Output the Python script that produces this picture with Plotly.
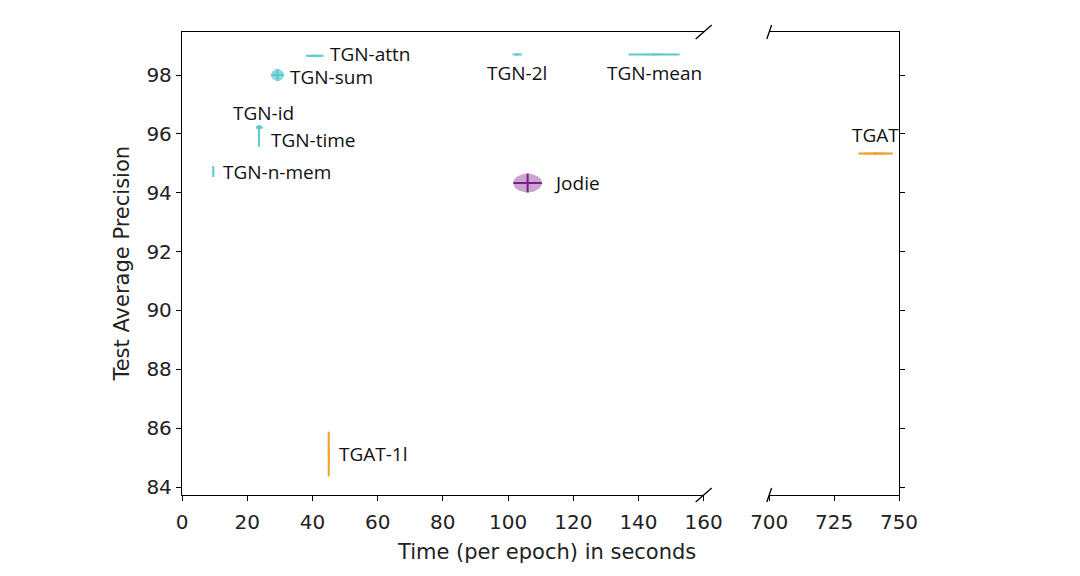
import numpy as np
import plotly.graph_objects as go
from plotly.subplots import make_subplots

# Methods, times (s per epoch) and test AP, with std in both directions
names = ['TGN-attn', 'TGN-sum', 'TGN-id', 'TGN-time', 'TGN-n-mem',
         'TGN-2l', 'TGN-mean', 'Jodie', 'TGAT-1l', 'TGAT']
time_s = [40.7, 29.3, 23.7, 23.6, 9.6, 102.8, 144.8, 106.0, 45.0, 741.0]
time_std = [2.7, 2.0, 1.0, 0.2, 0.15, 1.4, 7.8, 4.4, 0.3, 6.6]
ap = [98.65, 98.0, 96.22, 95.88, 94.72, 98.70, 98.70, 94.33, 85.12, 95.33]
ap_std = [0.04, 0.2, 0.08, 0.32, 0.19, 0.03, 0.03, 0.32, 0.76, 0.05]
group = ['tgn'] * 7 + ['jodie', 'tgat', 'tgat']

x_ticks_left = [0, 20, 40, 60, 80, 100, 120, 140, 160]
x_ticks_right = [700, 725, 750]
y_ticks = [84, 86, 88, 90, 92, 94, 96, 98]

bar_color = {'tgn': '#5cc9cf', 'jodie': '#7a1f85', 'tgat': '#f2a22c'}
fill_color = {'tgn': 'rgba(92,201,207,0.7)', 'jodie': 'rgba(160,90,170,0.55)',
              'tgat': 'rgba(242,162,44,0.7)'}

# label placement: (xanchor, xshift px, yshift px)
label_pos = {
    'TGN-attn': ('left', 14, 2), 'TGN-sum': ('left', 11, -2),
    'TGN-id': ('left', -27, 14), 'TGN-time': ('left', 11, -3),
    'TGN-n-mem': ('left', 9, 0), 'TGN-2l': ('center', 0, -19),
    'TGN-mean': ('center', 0, -19), 'Jodie': ('left', 25, 0),
    'TGAT-1l': ('left', 9, 0), 'TGAT': ('center', 0, 19),
}

fig = make_subplots(rows=1, cols=2, shared_yaxes=True)
left_dom = [0, 0.7276]
right_dom = [0.819, 1]

t = np.linspace(0, 2 * np.pi, 60)
for i, n in enumerate(names):
    col = 2 if time_s[i] > 500 else 1
    g = group[i]
    # std ellipse
    fig.add_trace(go.Scatter(
        x=time_s[i] + time_std[i] * np.cos(t), y=ap[i] + ap_std[i] * np.sin(t),
        mode='lines', fill='toself', fillcolor=fill_color[g],
        line=dict(width=0), hoverinfo='skip', showlegend=False), row=1, col=col)
    # error bars
    fig.add_trace(go.Scatter(
        x=[time_s[i]], y=[ap[i]], mode='markers', name=n,
        marker=dict(size=2, color=bar_color[g]),
        error_x=dict(type='data', array=[time_std[i]], color=bar_color[g], thickness=2, width=0),
        error_y=dict(type='data', array=[ap_std[i]], color=bar_color[g], thickness=2, width=0),
        showlegend=False), row=1, col=col)
    xa, xs, ys = label_pos[n]
    fig.add_annotation(
        x=time_s[i], y=ap[i], xref='x2' if col == 2 else 'x', yref='y2' if col == 2 else 'y',
        text=n, showarrow=False, xanchor=xa, yanchor='middle', xshift=xs, yshift=ys,
        borderpad=0, font=dict(family='Open Sans', size=19, color='#111'))

axis_common = dict(showline=True, linecolor='black', linewidth=1.3, ticks='outside',
                   ticklen=5, tickwidth=1.3, tickcolor='black', showgrid=False, zeroline=False,
                   tickfont=dict(family='DejaVu Sans', size=20, color='#222'))
fig.update_xaxes(domain=left_dom, range=[0, 160], tickvals=x_ticks_left, mirror=True,
                 ticklabelstandoff=4, **axis_common, row=1, col=1)
fig.update_xaxes(domain=right_dom, range=[700, 750], tickvals=x_ticks_right, mirror=True,
                 ticklabelstandoff=4, **axis_common, row=1, col=2)
fig.update_yaxes(range=[83.728, 99.461], tickvals=y_ticks, **axis_common, row=1, col=1)
fig.update_yaxes(range=[83.728, 99.461], tickvals=y_ticks, side='right', showticklabels=False,
                 **axis_common, row=1, col=2)

# axis break marks
for xp, dx in [(left_dom[1], 8), (right_dom[0], 2.4)]:
    for yp in [0, 1]:
        fig.add_shape(type='line', xref='paper', yref='paper', xsizemode='pixel', ysizemode='pixel',
                      xanchor=xp, yanchor=yp, x0=-dx, x1=dx, y0=-7, y1=7,
                      line=dict(color='black', width=1.3))

fig.add_annotation(text='Time (per epoch) in seconds', xref='paper', yref='paper',
                   x=0.509, y=-0.123, showarrow=False, xanchor='center', yanchor='middle',
                   font=dict(family='DejaVu Sans', size=21, color='#222'))
fig.add_annotation(text='Test Average Precision', xref='paper', yref='paper',
                   x=-0.085, y=0.5, showarrow=False, textangle=-90, xanchor='center',
                   yanchor='middle', font=dict(family='DejaVu Sans', size=21, color='#222'))

fig.update_layout(width=1080, height=576, paper_bgcolor='white', plot_bgcolor='white',
                  margin=dict(l=174, r=189, t=24, b=89), showlegend=False)

fig.write_html('out.html')
